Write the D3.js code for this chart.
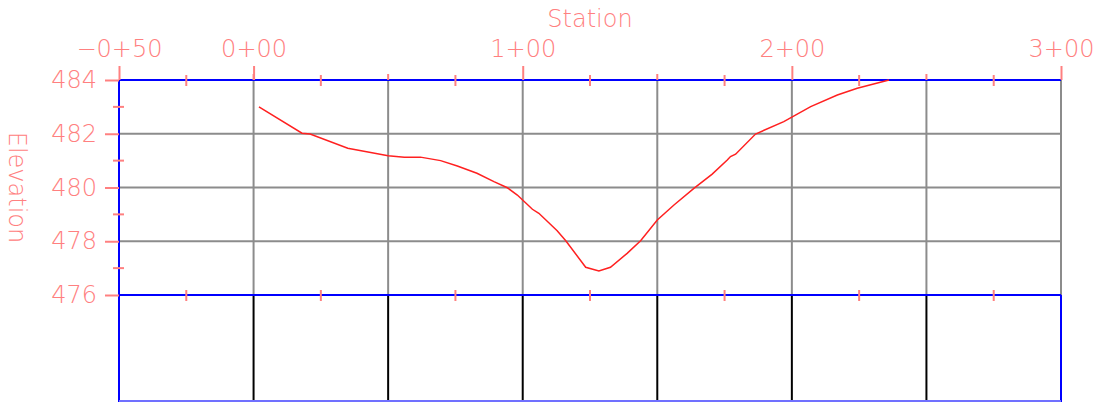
<!DOCTYPE html>
<html lang="en">
<head>
<meta charset="UTF-8">
<title>Station / Elevation profile</title>
<script src="https://d3js.org/d3.v7.min.js"></script>
<style>
  body { margin: 0; background: #fff; }
  text { font-family: "DejaVu Sans", sans-serif; font-weight: 200; fill: #ff8080; }
</style>
</head>
<body>
<svg width="1099" height="402"></svg>
<script>
  // profile: [station, elevation]
  const stations = [2, 18, 21, 35, 42, 50, 56, 62, 69.5, 75.7, 83, 89.3, 94.3, 98, 103.6, 106, 112.8, 116,
    123.4, 128.3, 132.6, 138.8, 143.8, 150, 156.2, 163.6, 170.4, 176, 177.2, 179.1, 186.5, 197, 207, 216.9, 224.3, 236.1];
  const elevations = [483.0, 482.02, 481.99, 481.46, 481.33, 481.18, 481.13, 481.13, 481.0, 480.8, 480.53, 480.22, 479.99, 479.72, 479.19, 479.04, 478.39, 478.02,
    477.03, 476.89, 477.03, 477.55, 478.02, 478.79, 479.35, 479.97, 480.5, 481.02, 481.15, 481.24, 481.99, 482.45, 483.01, 483.44, 483.69, 484.0];

  const labelStations = [-50, 0, 100, 200, 300];
  const gridStations = [0, 50, 100, 150, 200, 250];
  const halfStations = [0, 50, 150, 250];
  const minorStations = [-25, 25, 75, 125, 175, 225, 275];
  const elevTicks = [476, 478, 480, 482, 484];
  const elevGrid = [478, 480, 482];
  const elevMinor = [477, 479, 481, 483];

  const x = d3.scaleLinear().domain([-50, 300]).range([119, 1061]);
  const y = d3.scaleLinear().domain([476, 484]).range([295, 80]);
  const bandBottom = 401;

  const svg = d3.select("svg");

  function fmtStation(s) {
    const a = Math.abs(s);
    return (s < 0 ? "\u2212" : "") + Math.floor(a / 100) + "+" + String(a % 100).padStart(2, "0");
  }

  // grey grid
  svg.selectAll(".vgrid").data(gridStations.concat([300])).enter().append("line")
    .attr("x1", d => x(d)).attr("x2", d => x(d))
    .attr("y1", y(484)).attr("y2", y(476))
    .attr("stroke", "#8c8c8c").attr("stroke-width", 2);
  svg.selectAll(".hgrid").data(elevGrid).enter().append("line")
    .attr("x1", x(-50)).attr("x2", x(300))
    .attr("y1", d => y(d)).attr("y2", d => y(d))
    .attr("stroke", "#8c8c8c").attr("stroke-width", 2);

  // band under the profile
  svg.selectAll(".band").data(gridStations).enter().append("line")
    .attr("x1", d => x(d)).attr("x2", d => x(d))
    .attr("y1", y(476)).attr("y2", bandBottom)
    .attr("stroke", "#000").attr("stroke-width", 2);

  // blue frame
  const blue = "#0000ff";
  svg.append("line").attr("x1", x(-50)).attr("x2", x(300)).attr("y1", y(484)).attr("y2", y(484))
    .attr("stroke", blue).attr("stroke-width", 2);
  svg.append("line").attr("x1", x(-50)).attr("x2", x(300)).attr("y1", y(476)).attr("y2", y(476))
    .attr("stroke", blue).attr("stroke-width", 2);
  svg.append("line").attr("x1", x(-50)).attr("x2", x(-50)).attr("y1", y(484)).attr("y2", bandBottom + 1)
    .attr("stroke", blue).attr("stroke-width", 2);
  svg.append("line").attr("x1", x(300)).attr("x2", x(300)).attr("y1", y(476)).attr("y2", bandBottom + 1)
    .attr("stroke", blue).attr("stroke-width", 2);
  svg.append("line").attr("x1", x(-50)).attr("x2", x(300)).attr("y1", bandBottom).attr("y2", bandBottom)
    .attr("stroke", "#7070ff").attr("stroke-width", 2);

  // profile
  const line = d3.line().x(d => x(d[0])).y(d => y(d[1]));
  svg.append("path")
    .datum(stations.map((s, i) => [s, elevations[i]]))
    .attr("d", line)
    .attr("fill", "none")
    .attr("stroke", "#ff2020")
    .attr("stroke-width", 1.5);

  // axes
  const tickColor = "#ff8080";
  const topAxis = svg.append("g").attr("transform", `translate(0,${y(484)})`)
    .call(d3.axisTop(x).tickValues(labelStations).tickSize(14).tickPadding(9).tickFormat(fmtStation));
  const leftAxis = svg.append("g").attr("transform", `translate(${x(-50)},0)`)
    .call(d3.axisLeft(y).tickValues(elevTicks).tickSize(14).tickPadding(8).tickFormat(d3.format("d")));
  [topAxis, leftAxis].forEach(g => {
    g.select(".domain").remove();
    g.attr("font-family", null).attr("font-size", null);
    g.selectAll(".tick line").attr("stroke", tickColor).attr("stroke-width", 2);
    g.selectAll(".tick text").style("font-size", "24px").attr("fill", tickColor);
  });

  // minor ticks
  svg.selectAll(".halfTick").data(halfStations).enter().append("line")
    .attr("x1", d => x(d)).attr("x2", d => x(d))
    .attr("y1", y(484) - 6).attr("y2", y(484))
    .attr("stroke", tickColor).attr("stroke-width", 2);
  [484, 476].forEach(e => {
    svg.selectAll(".minorTick" + e).data(minorStations).enter().append("line")
      .attr("x1", d => x(d)).attr("x2", d => x(d))
      .attr("y1", y(e) - 5).attr("y2", y(e) + 6)
      .attr("stroke", tickColor).attr("stroke-width", 2);
  });
  svg.selectAll(".elevMinor").data(elevMinor).enter().append("line")
    .attr("x1", x(-50) - 6).attr("x2", x(-50) + 5)
    .attr("y1", d => y(d)).attr("y2", d => y(d))
    .attr("stroke", tickColor).attr("stroke-width", 2);

  // titles
  svg.append("text").attr("x", (x(-50) + x(300)) / 2).attr("y", 27)
    .attr("text-anchor", "middle").style("font-size", "24px").text("Station");
  svg.append("text")
    .attr("transform", `translate(9,${(y(484) + y(476)) / 2}) rotate(90)`)
    .attr("text-anchor", "middle").style("font-size", "24px").text("Elevation");
</script>
</body>
</html>
